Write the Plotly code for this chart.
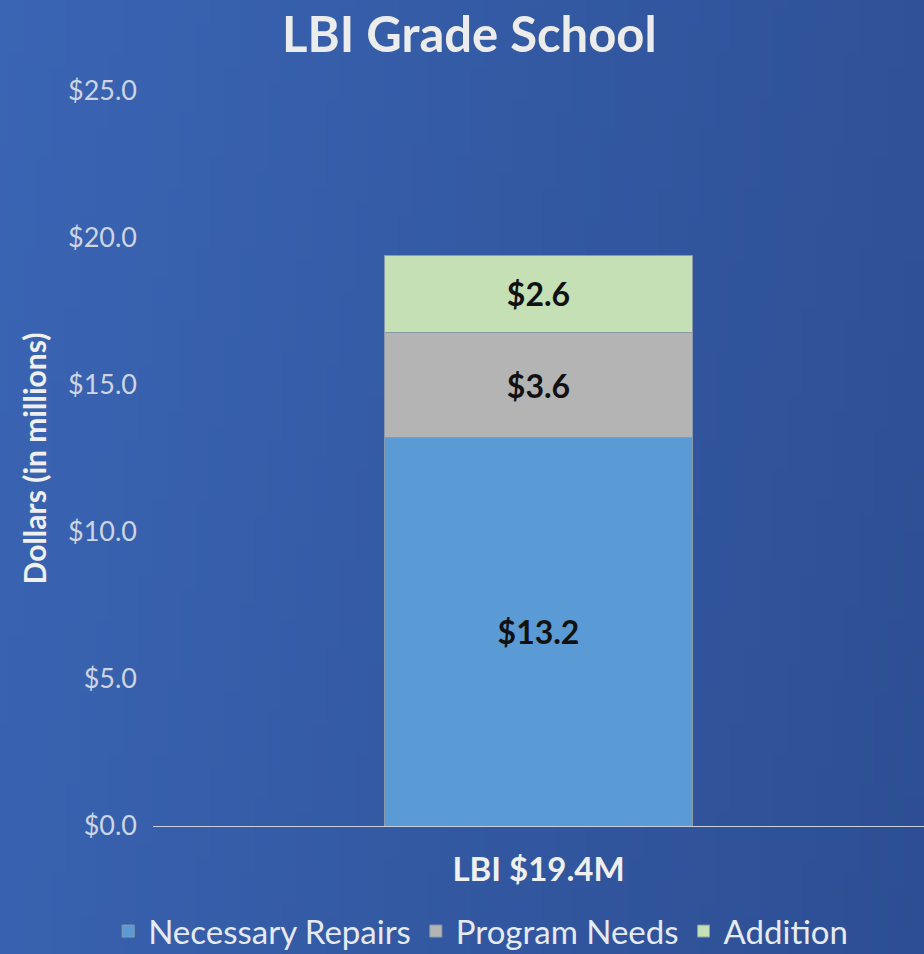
import base64, struct, zlib
import plotly.graph_objects as go

categories = ["LBI $19.4M"]
series_names = ["Necessary Repairs", "Program Needs", "Addition"]
necessary_repairs = [13.2]
program_needs = [3.6]
addition = [2.6]
tick_vals = [0, 5, 10, 15, 20, 25]
tick_text = ["$0.0", "$5.0", "$10.0", "$15.0", "$20.0", "$25.0"]

colors = ["#5b9bd5", "#b4b4b4", "#c5e0b4"]
values = [necessary_repairs, program_needs, addition]


def gradient_png(w, h, c_left, c_right):
    rows = b""
    for y in range(h):
        row = b"\x00"
        for x in range(w):
            t = (x / (w - 1)) * 0.85 + (y / (h - 1)) * 0.15
            px = bytes(int(round(c_left[i] + (c_right[i] - c_left[i]) * t)) for i in range(3))
            row += px
        rows += row

    def chunk(tag, data):
        c = struct.pack(">I", len(data)) + tag + data
        return c + struct.pack(">I", zlib.crc32(tag + data) & 0xffffffff)

    png = b"\x89PNG\r\n\x1a\n"
    png += chunk(b"IHDR", struct.pack(">IIBBBBB", w, h, 8, 2, 0, 0, 0))
    png += chunk(b"IDAT", zlib.compress(rows))
    png += chunk(b"IEND", b"")
    return "data:image/png;base64," + base64.b64encode(png).decode()


bg = gradient_png(64, 64, (0x3a, 0x65, 0xb4), (0x2d, 0x4e, 0x93))

FONT = "Lato, Open Sans, sans-serif"

fig = go.Figure()
for name, vals, col in zip(series_names, values, colors):
    fig.add_trace(go.Bar(
        x=categories, y=vals, name=name,
        marker=dict(color=col, line=dict(color="#8a9aa8", width=1)),
        text=[f"${v:.1f}" for v in vals],
        textposition="inside", insidetextanchor="middle",
        textfont=dict(family=FONT, size=32, color="#111111", weight="bold"),
    ))

fig.update_layout(
    width=924, height=954,
    barmode="stack", bargap=0.6,
    paper_bgcolor="#3359a3", plot_bgcolor="rgba(0,0,0,0)",
    margin=dict(l=153, r=0, t=91, b=128, autoexpand=False),
    font=dict(family=FONT, color="#e6eaf2"),
    title=dict(text="<b>LBI Grade School</b>", x=0.508, xanchor="center", y=0.963, yanchor="middle",
               font=dict(size=49, color="#ececec")),
    showlegend=True,
    legend=dict(orientation="h", x=0.425, xanchor="center", y=-0.143, yanchor="middle",
                font=dict(size=33, color="#e6eaf2"), traceorder="normal",
                itemwidth=30, bgcolor="rgba(0,0,0,0)"),
    images=[dict(source=bg, xref="paper", yref="paper", x=-153/771, y=1+91/735,
                 sizex=924/771, sizey=954/735, sizing="stretch", layer="below",
                 xanchor="left", yanchor="top")],
    xaxis=dict(showline=True, linecolor="#c8d0dc", linewidth=1, ticks="",
               ticklabelstandoff=14, automargin=False,
               tickfont=dict(size=33, color="#f0f0f0", weight="bold"), showgrid=False),
    yaxis=dict(range=[0, 25], tickvals=tick_vals, ticktext=tick_text, showgrid=False,
               zeroline=False, showline=False, ticks="", ticklabelstandoff=15, automargin=False,
               tickfont=dict(size=27, color="#cdd5e4"),
               title=dict(text="<b>Dollars (in millions)</b>", standoff=12,
                          font=dict(size=30, color="#f0f0f0"))),
)

fig.write_html("out.html", config={"displayModeBar": False},
               post_script="document.body.style.margin='0';document.body.style.overflow='hidden';")
